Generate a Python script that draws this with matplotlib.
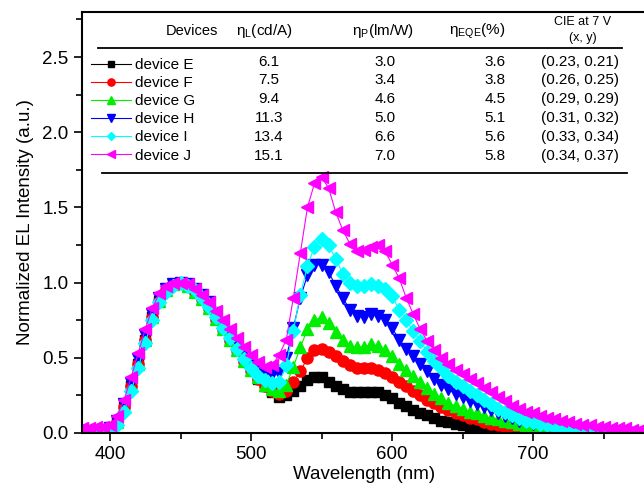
import matplotlib
matplotlib.use("Agg")
import matplotlib.pyplot as plt
from matplotlib.ticker import MultipleLocator

plt.rcParams['font.family'] = ['Liberation Sans', 'DejaVu Sans']

# wavelength grid (nm)
wavelength = [380, 385, 390, 395, 400, 405, 410, 415, 420, 425, 430, 435, 440, 445, 450,
              455, 460, 465, 470, 475, 480, 485, 490, 495, 500, 505, 510, 515,
              520, 525, 530, 535, 540, 545, 550, 555, 560, 565, 570, 575, 580,
              585, 590, 595, 600, 605, 610, 615, 620, 625, 630, 635, 640, 645,
              650, 655, 660, 665, 670, 675, 680, 685, 690, 695, 700, 705, 710,
              715, 720, 725, 730, 735, 740, 745, 750, 755, 760, 765, 770, 775, 780]

dev_E = [0.01, 0.01, 0.01, 0.01, 0.02,
         0.07, 0.17, 0.31, 0.46, 0.62, 0.77, 0.88, 0.95, 0.99, 1.00,
         0.98, 0.94, 0.89, 0.83, 0.76, 0.69, 0.62, 0.55, 0.48, 0.42, 0.36, 0.31, 0.27,
         0.24, 0.25, 0.28, 0.31, 0.35, 0.37, 0.37, 0.34, 0.31, 0.29, 0.27, 0.27, 0.27,
         0.27, 0.27, 0.25, 0.23, 0.20, 0.18, 0.15, 0.13, 0.12, 0.10, 0.08, 0.07, 0.06,
         0.05, 0.04, 0.03, 0.02, 0.02, 0.01, 0.01, 0.01, 0.00, 0.00, 0.00, 0.00, 0.00,
         0.00, 0.00, 0.00, 0.00, 0.00, 0.00, 0.00, 0.00, 0.00, 0.00, 0.00, 0.00, 0.00, 0.00]

dev_F = [0.01, 0.01, 0.01, 0.01, 0.02,
         0.07, 0.17, 0.31, 0.46, 0.62, 0.77, 0.88, 0.95, 0.99, 1.00,
         0.98, 0.94, 0.89, 0.83, 0.76, 0.69, 0.62, 0.55, 0.48, 0.42, 0.36, 0.31, 0.28,
         0.26, 0.28, 0.34, 0.41, 0.50, 0.55, 0.56, 0.54, 0.51, 0.48, 0.45, 0.43, 0.43,
         0.43, 0.42, 0.40, 0.37, 0.34, 0.31, 0.28, 0.25, 0.22, 0.20, 0.17, 0.15, 0.13,
         0.12, 0.10, 0.09, 0.07, 0.06, 0.05, 0.04, 0.03, 0.03, 0.02, 0.02, 0.01, 0.01,
         0.01, 0.01, 0.00, 0.00, 0.00, 0.00, 0.00, 0.00, 0.00, 0.00, 0.00, 0.00, 0.00, 0.00]

dev_G = [0.01, 0.01, 0.01, 0.01, 0.02,
         0.07, 0.17, 0.31, 0.46, 0.62, 0.77, 0.88, 0.95, 0.99, 1.00,
         0.98, 0.94, 0.89, 0.83, 0.76, 0.69, 0.62, 0.55, 0.48, 0.42, 0.37, 0.32, 0.29,
         0.28, 0.32, 0.44, 0.57, 0.69, 0.75, 0.77, 0.73, 0.67, 0.62, 0.58, 0.57, 0.57,
         0.59, 0.58, 0.55, 0.51, 0.46, 0.42, 0.38, 0.34, 0.30, 0.26, 0.23, 0.20, 0.18,
         0.16, 0.14, 0.13, 0.11, 0.10, 0.09, 0.08, 0.07, 0.06, 0.05, 0.04, 0.03, 0.03,
         0.02, 0.02, 0.01, 0.01, 0.01, 0.00, 0.00, 0.00, 0.00, 0.00, 0.00, 0.00, 0.00, 0.00]

dev_H = [0.01, 0.01, 0.01, 0.02, 0.03,
         0.08, 0.19, 0.33, 0.49, 0.65, 0.79, 0.90, 0.96, 0.99, 1.00,
         0.99, 0.96, 0.92, 0.87, 0.80, 0.73, 0.66, 0.60, 0.54, 0.48, 0.43, 0.40, 0.39,
         0.40, 0.50, 0.70, 0.90, 1.05, 1.12, 1.12, 1.07, 0.98, 0.90, 0.82, 0.78, 0.77,
         0.79, 0.78, 0.75, 0.70, 0.62, 0.56, 0.51, 0.46, 0.41, 0.36, 0.32, 0.29, 0.26,
         0.24, 0.21, 0.19, 0.17, 0.15, 0.13, 0.11, 0.10, 0.08, 0.07, 0.06, 0.05, 0.04,
         0.03, 0.03, 0.02, 0.02, 0.01, 0.01, 0.01, 0.00, 0.00, 0.00, 0.00, 0.00, 0.00, 0.00]

dev_I = [0.00, 0.00, 0.00, 0.01, 0.01,
         0.05, 0.14, 0.28, 0.43, 0.60, 0.75, 0.87, 0.94, 0.98, 1.00,
         0.98, 0.95, 0.90, 0.84, 0.77, 0.70, 0.63, 0.56, 0.49, 0.43, 0.38, 0.35, 0.33,
         0.34, 0.45, 0.68, 0.92, 1.11, 1.24, 1.29, 1.25, 1.16, 1.06, 1.00, 0.98, 0.98,
         0.99, 0.98, 0.96, 0.91, 0.82, 0.75, 0.68, 0.61, 0.54, 0.48, 0.43, 0.38, 0.34,
         0.31, 0.28, 0.25, 0.22, 0.19, 0.16, 0.14, 0.12, 0.10, 0.08, 0.07, 0.06, 0.05,
         0.04, 0.03, 0.03, 0.02, 0.02, 0.01, 0.01, 0.01, 0.00, 0.00, 0.00, 0.00, 0.00, 0.00]

dev_J = [0.03, 0.03, 0.04, 0.04, 0.05,
         0.11, 0.22, 0.37, 0.53, 0.69, 0.83, 0.93, 0.98, 1.00, 1.00,
         0.99, 0.96, 0.92, 0.87, 0.81, 0.75, 0.69, 0.63, 0.57, 0.52, 0.47, 0.44, 0.45,
         0.52, 0.62, 0.90, 1.20, 1.50, 1.66, 1.70, 1.63, 1.47, 1.35, 1.26, 1.21, 1.22,
         1.24, 1.25, 1.21, 1.12, 1.03, 0.90, 0.79, 0.69, 0.61, 0.55, 0.50, 0.46, 0.42,
         0.39, 0.36, 0.33, 0.30, 0.27, 0.24, 0.21, 0.18, 0.16, 0.14, 0.13, 0.11, 0.10,
         0.09, 0.08, 0.07, 0.06, 0.05, 0.05, 0.04, 0.04, 0.03, 0.03, 0.03, 0.02, 0.02, 0.02]

labels = ['device E', 'device F', 'device G', 'device H', 'device I', 'device J']
eta_L = ['6.1', '7.5', '9.4', '11.3', '13.4', '15.1']
eta_P = ['3.0', '3.4', '4.6', '5.0', '6.6', '7.0']
eta_EQE = ['3.6', '3.8', '4.5', '5.1', '5.6', '5.8']
cie = ['(0.23, 0.21)', '(0.26, 0.25)', '(0.29, 0.29)', '(0.31, 0.32)',
       '(0.33, 0.34)', '(0.34, 0.37)']

series = [dev_E, dev_F, dev_G, dev_H, dev_I, dev_J]
colors = ['#000000', '#ff0000', '#00ee00', '#0000ff', '#00ffff', '#ff00ff']
markers = ['s', 'o', '^', 'v', 'D', '<']
msizes = [7, 8, 8, 8, 7, 8]

fig = plt.figure(figsize=(6.44, 4.95), dpi=100)
ax = fig.add_axes([0.127, 0.1253, 0.876, 0.8505])

for ys, c, m, ms, lab in zip(series, colors, markers, msizes, labels):
    ax.plot(wavelength, ys, color=c, lw=0.8, marker=m, ms=ms, mec=c, mfc=c,
            label=lab)

ax.set_xlim(380, 780)
ax.set_ylim(0, 2.8)
ax.xaxis.set_major_locator(MultipleLocator(100))
ax.xaxis.set_minor_locator(MultipleLocator(50))
ax.yaxis.set_major_locator(MultipleLocator(0.5))
ax.yaxis.set_minor_locator(MultipleLocator(0.25))
ax.yaxis.set_major_formatter(plt.FormatStrFormatter('%.1f'))
ax.tick_params(which='both', direction='out', width=1.2, labelsize=13.5)
ax.tick_params(which='major', length=6)
ax.tick_params(which='minor', length=4)
ax.tick_params(top=False, right=False)
for s in ax.spines.values():
    s.set_linewidth(1.5)

ax.set_xlabel('Wavelength (nm)', fontsize=13.5, labelpad=2)
ax.set_ylabel('Normalized EL Intensity (a.u.)', fontsize=13.5, labelpad=6)

# table inside the plot
leg = ax.legend(loc='upper left', bbox_to_anchor=(-0.005, 0.92), frameon=False,
                fontsize=11, handlelength=2.6, handletextpad=0.3,
                labelspacing=0.27, markerscale=0.65, borderpad=0.3)

row_y = [0.881, 0.838, 0.793, 0.748, 0.703, 0.658]
col_x = [0.332, 0.537, 0.732, 0.883]
for i, y in enumerate(row_y):
    for x, col in zip(col_x, [eta_L, eta_P, eta_EQE, cie]):
        ax.text(x, y, col[i], transform=ax.transAxes, ha='center', va='center',
                fontsize=11)

hdr_y = 0.955
ax.text(0.195, hdr_y, 'Devices', transform=ax.transAxes, ha='center', va='center', fontsize=10.5)
ax.text(0.324, hdr_y, r'$\mathregular{\eta_L}$(cd/A)', transform=ax.transAxes, ha='center', va='center', fontsize=11)
ax.text(0.534, hdr_y, r'$\mathregular{\eta_P}$(lm/W)', transform=ax.transAxes, ha='center', va='center', fontsize=11)
ax.text(0.700, hdr_y, r'$\mathregular{\eta_{EQE}}$(%)', transform=ax.transAxes, ha='center', va='center', fontsize=11)
ax.text(0.888, 0.976, 'CIE at 7 V', transform=ax.transAxes, ha='center', va='center', fontsize=9)
ax.text(0.888, 0.938, '(x, y)', transform=ax.transAxes, ha='center', va='center', fontsize=9)

ax.plot([0.028, 0.957], [0.9145, 0.9145], transform=ax.transAxes, color='k', lw=1.3, clip_on=False)
ax.plot([0.035, 0.966], [0.6176, 0.6176], transform=ax.transAxes, color='k', lw=1.3, clip_on=False)

fig.savefig('out.png', dpi=100)
